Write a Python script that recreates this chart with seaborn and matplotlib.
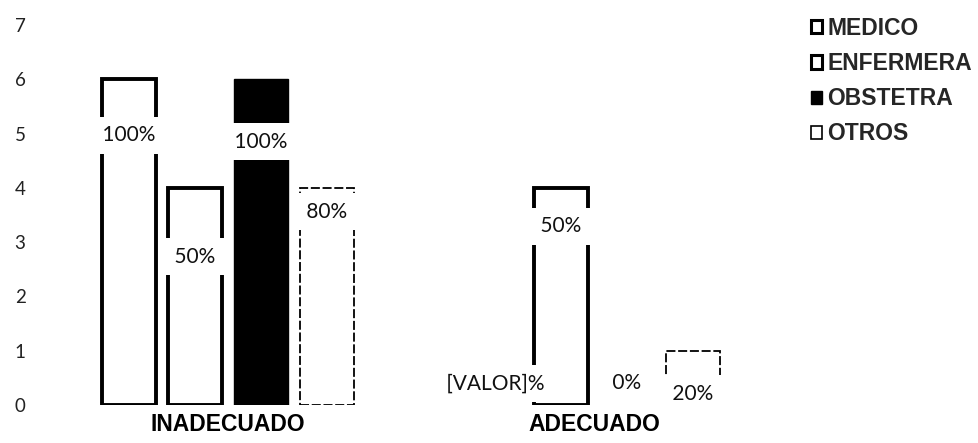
import matplotlib
matplotlib.use("Agg")
import matplotlib.pyplot as plt
from matplotlib.patches import Patch
import pandas as pd
import seaborn as sns

# Categories and staff groups
categories = ["INADECUADO", "ADECUADO"]
series = ["MEDICO", "ENFERMERA", "OBSTETRA", "OTROS"]

# Counts per staff group (INADECUADO, ADECUADO)
medico = [6, 0]
enfermera = [4, 4]
obstetra = [6, 0]
otros = [4, 1]

# Percentage labels shown on each bar
medico_pct = ["100%", "[VALOR]%"]
enfermera_pct = ["50%", "50%"]
obstetra_pct = ["100%", "0%"]
otros_pct = ["80%", "20%"]

# Height (axis units) at which each percentage label sits
medico_lab_y = [4.97, 0.40]
enfermera_lab_y = [2.73, 3.29]
obstetra_lab_y = [4.85, 0.40]
otros_lab_y = [3.56, 0.21]

values = [medico, enfermera, obstetra, otros]
pcts = [medico_pct, enfermera_pct, obstetra_pct, otros_pct]
lab_ys = [medico_lab_y, enfermera_lab_y, obstetra_lab_y, otros_lab_y]

rows = []
for name, vals in zip(series, values):
    for cat, v in zip(categories, vals):
        rows.append({"grupo": cat, "personal": name, "valor": v})
df = pd.DataFrame(rows)

sns.set_style("white")
plt.rcParams["font.family"] = ["Lato", "DejaVu Sans"]

fills = {"MEDICO": "white", "ENFERMERA": "white", "OBSTETRA": "black", "OTROS": "white"}

fig = plt.figure(figsize=(9.79, 4.43), dpi=100)
ax = fig.add_axes([45 / 979, 38 / 443, 732 / 979, 380 / 443])

sns.barplot(data=df, x="grupo", y="valor", hue="personal", order=categories,
            hue_order=series, palette=fills, saturation=1, width=0.72, gap=0.18,
            edgecolor="black", linewidth=2.5, legend=False, ax=ax)

# Per-series outline styles
edge_styles = {
    "MEDICO": dict(linewidth=2.8, linestyle="-"),
    "ENFERMERA": dict(linewidth=2.8, linestyle="-"),
    "OBSTETRA": dict(linewidth=1.0, linestyle="-"),
    "OTROS": dict(linewidth=1.3, linestyle=(0, (5, 1.5))),
}
for name, cont in zip(series, ax.containers):
    for bar in cont:
        if bar.get_height() == 0:
            bar.set_linewidth(0)
            continue
        bar.set_linewidth(edge_styles[name]["linewidth"])
        bar.set_linestyle(edge_styles[name]["linestyle"])
        bar.set_joinstyle("miter")

# Percentage labels in white boxes over the bars
for cont, labels, ys in zip(ax.containers, pcts, lab_ys):
    for bar, txt, y in zip(cont, labels, ys):
        xc = bar.get_x() + bar.get_width() / 2
        ax.text(xc, y, f" {txt} ", ha="center", va="center", fontsize=15,
                color="#111111", zorder=5,
                bbox=dict(boxstyle="square,pad=0.4", facecolor="white",
                          edgecolor="none"))

ax.set_xlim(-0.5, 1.5)
ax.set_ylim(0, 7)
ax.set_yticks(range(0, 8))
ax.set_xlabel("")
ax.set_ylabel("")
sns.despine(ax=ax, left=True, bottom=True)
ax.tick_params(axis="both", length=0)
ax.tick_params(axis="y", pad=14, labelsize=13.5, labelcolor="#222222")
ax.tick_params(axis="x", pad=6)
for lab in ax.get_xticklabels():
    lab.set_fontfamily(["Liberation Sans", "DejaVu Sans"])
    lab.set_fontweight("bold")
    lab.set_fontsize(16.5)
    lab.set_color("black")

# Legend
handles = [
    Patch(facecolor="white", edgecolor="black", linewidth=2.2),
    Patch(facecolor="white", edgecolor="black", linewidth=2.2),
    Patch(facecolor="black", edgecolor="black", linewidth=1.0),
    Patch(facecolor="white", edgecolor="black", linewidth=1.2),
]
leg = fig.legend(handles, series, loc="upper left",
                 bbox_to_anchor=(811 / 979, 1 - 17 / 443),
                 frameon=False, handlelength=0.5, handleheight=0.5,
                 handletextpad=0.2, labelspacing=0.53, borderpad=0,
                 borderaxespad=0,
                 prop={"family": ["Liberation Sans", "DejaVu Sans"],
                       "weight": "bold", "size": 16.5})

fig.savefig("out.png", dpi=100)
